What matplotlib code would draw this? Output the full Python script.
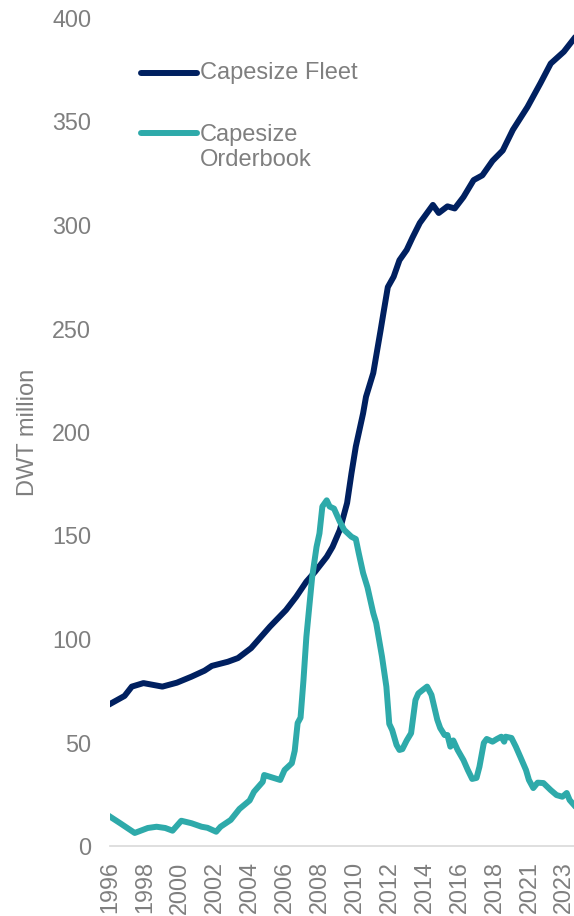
import matplotlib.pyplot as plt

plt.rcParams['font.family'] = ['Liberation Sans', 'DejaVu Sans']

# months counted from Jan 1996
year_labels = ["1996", "1998", "2000", "2002", "2004", "2006", "2008",
               "2010", "2012", "2014", "2016", "2018", "2021", "2023"]
tick_months = [0, 24, 48, 72, 96, 120, 144, 168, 192, 216, 240, 264, 288, 312]

fleet_month = [0, 10, 15, 23, 36, 46, 56, 65, 70, 81, 88, 97, 105, 110, 121,
               128, 135, 141, 149, 153, 158, 163, 166, 169, 174, 176, 181,
               186, 188, 191, 195, 199, 204, 208, 213, 222, 226, 232, 237,
               243, 250, 256, 263, 270, 277, 287, 296, 303, 312, 319]
fleet_dwt = [68.6, 72.5, 77.0, 78.7, 77.0, 78.9, 81.8, 84.7, 87.0, 89.0,
             90.8, 95.6, 102.0, 106.0, 114.0, 120.4, 127.7, 132.5, 139.7,
             144.5, 152.7, 165.7, 180.0, 193.0, 209.0, 217.0, 228.5, 249.0,
             257.5, 270.0, 275.0, 283.0, 288.0, 294.0, 301.0, 309.7, 305.8,
             309.0, 308.0, 313.5, 321.7, 324.0, 331.0, 336.0, 346.0, 357.0,
             368.6, 378.0, 383.7, 390.0]

book_month = [0, 7, 17, 26, 32, 38, 43, 49, 56, 63, 67, 73, 76, 83, 89, 96,
              99, 105, 106, 117, 120, 125, 127, 129, 131, 133, 135, 137, 139,
              142, 144, 146, 149, 151, 154, 158, 161, 166, 169, 171, 174,
              177, 181, 183, 187, 190, 192, 194, 197, 199, 201, 204, 207,
              210, 212, 215, 218, 221, 225, 227, 230, 232, 234, 236, 239,
              243, 246, 249, 252, 254, 257, 259, 263, 266, 269, 271, 272,
              276, 279, 282, 286, 288, 291, 294, 298, 303, 307, 311, 314,
              316, 319]
book_dwt = [14.2, 11.0, 6.3, 8.7, 9.3, 8.7, 7.4, 12.2, 11.0, 9.3, 8.8, 6.9,
            9.3, 12.6, 17.9, 22.0, 26.2, 31.0, 34.3, 31.9, 36.7, 40.0, 46.0,
            59.4, 62.0, 80.0, 101.0, 115.6, 130.0, 144.5, 151.0, 164.0,
            167.0, 164.0, 163.0, 156.7, 152.7, 149.4, 148.3, 141.5, 131.9,
            125.0, 112.5, 107.7, 91.5, 77.0, 59.0, 56.0, 48.8, 46.4, 46.8,
            51.0, 54.5, 70.5, 73.7, 75.4, 77.0, 73.0, 61.0, 57.0, 53.6,
            53.6, 48.0, 51.0, 46.4, 41.5, 36.7, 32.4, 32.9, 38.3, 49.8,
            51.7, 50.4, 51.7, 52.8, 50.4, 52.8, 52.2, 48.0, 43.2, 36.7,
            31.9, 28.0, 30.6, 30.4, 27.0, 24.6, 23.8, 25.6, 22.2, 19.8]

navy = "#002060"
teal = "#2EAAAA"
grey = "#7F7F7F"

fig = plt.figure(figsize=(5.74, 9.16), dpi=100)
ax = fig.add_axes([110 / 574, 1 - 846 / 916, 464 / 574, 828 / 916])

ax.plot(fleet_month, fleet_dwt, color=navy, lw=4.3, solid_joinstyle="round")
ax.plot(book_month, book_dwt, color=teal, lw=4.3, solid_joinstyle="round")

ax.set_xlim(0, 319)
ax.set_ylim(0, 400)
ax.set_yticks(range(0, 401, 50))
ax.set_xticks(tick_months)
ax.set_xticklabels(year_labels, rotation=90)
ax.tick_params(axis="both", length=0, labelsize=16.8, labelcolor=grey)
ax.tick_params(axis="y", pad=13.5)
ax.tick_params(axis="x", pad=11)

for side in ["top", "right", "left"]:
    ax.spines[side].set_visible(False)
ax.spines["bottom"].set_color("#D9D9D9")
ax.spines["bottom"].set_linewidth(1.2)

fig.text(28 / 574, 1 - 432 / 916, "DWT million", rotation=90,
         ha="center", va="center", fontsize=17, color=grey)

# legend drawn by hand, label text to the right of each swatch
ax.plot([0.067, 0.1875], [0.9336, 0.9336], transform=ax.transAxes,
        color=navy, lw=4.3, solid_capstyle="round")
ax.text(0.194, 0.9336, "Capesize Fleet", transform=ax.transAxes,
        ha="left", va="center", fontsize=17, color=grey)
ax.plot([0.067, 0.1875], [0.861, 0.861], transform=ax.transAxes,
        color=teal, lw=4.3, solid_capstyle="round")
ax.text(0.194, 0.872, "Capesize\nOrderbook", transform=ax.transAxes,
        ha="left", va="top", fontsize=17, color=grey, linespacing=1.15)

fig.savefig("out.png", dpi=100)
